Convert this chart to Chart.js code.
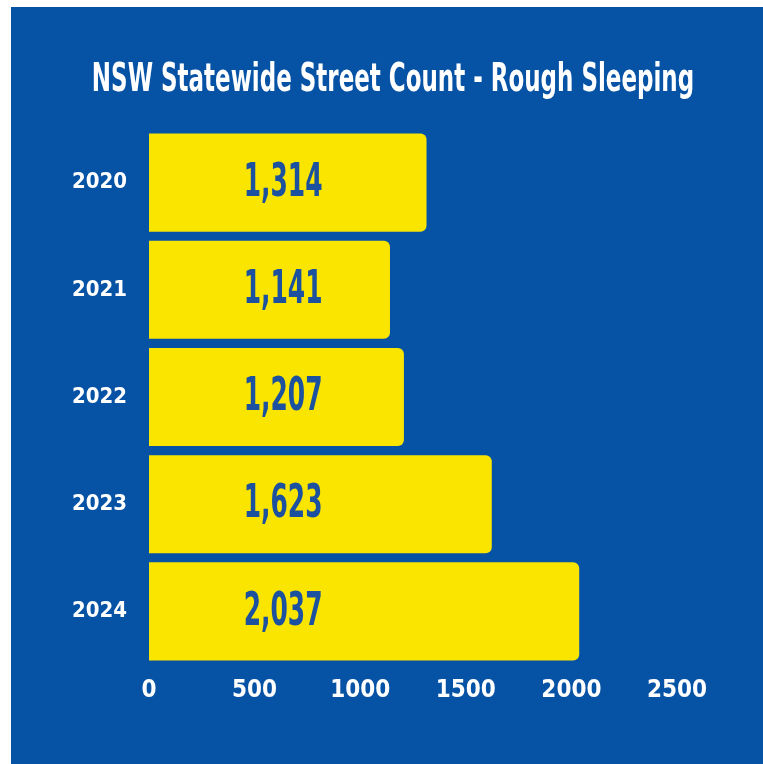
<!DOCTYPE html>
<html>
<head>
<meta charset="utf-8">
<script src="https://cdn.jsdelivr.net/npm/chart.js@4"></script>
<style>
  html, body { margin: 0; padding: 0; background: #fff; }
  #panel { position: absolute; left: 11px; top: 7px; width: 752px; height: 757px; background: #0652a5; }
  canvas { display: block; }
</style>
</head>
<body>
<div id="panel"><canvas id="chart" width="752" height="757"></canvas></div>
<script>
// Rough sleeping counts by year
const years = ['2020', '2021', '2022', '2023', '2024'];
const counts = [1314, 1141, 1207, 1623, 2037];
const xTicks = [0, 500, 1000, 1500, 2000, 2500];
const titleText = 'NSW Statewide Street Count - Rough Sleeping';

const FONT = '"DejaVu Sans Condensed", "DejaVu Sans", sans-serif';
const labelAt = 635; // value labels sit at a fixed spot along the axis

// draw text squeezed horizontally, the original uses a narrow DIN-like face
function squeezed(ctx, text, x, y, font, sx) {
  ctx.save();
  ctx.font = font;
  ctx.textAlign = 'center';
  ctx.textBaseline = 'middle';
  ctx.translate(x, y);
  ctx.scale(sx, 1);
  ctx.fillText(text, 0, 0);
  ctx.restore();
}

const textLayer = {
  id: 'textLayer',
  afterDatasetsDraw(chart) {
    const ctx = chart.ctx;
    const xs = chart.scales.x;
    const meta = chart.getDatasetMeta(0);
    ctx.fillStyle = '#ffffff';
    squeezed(ctx, titleText, 382, 74, 'bold 39px ' + FONT, 0.655);
    ctx.fillStyle = '#1b519e';
    meta.data.forEach((bar, i) => {
      squeezed(ctx, counts[i].toLocaleString('en-US'), xs.getPixelForValue(labelAt), bar.y + 1,
        'bold 47px ' + FONT, 0.59);
    });
  }
};

new Chart(document.getElementById('chart'), {
  type: 'bar',
  data: {
    labels: years,
    datasets: [{
      data: counts,
      backgroundColor: '#f9e500',
      borderRadius: 6,
      barPercentage: 0.915,
      categoryPercentage: 1
    }]
  },
  options: {
    indexAxis: 'y',
    responsive: false,
    animation: false,
    layout: { padding: { left: 0, right: 86, top: 122, bottom: 0 } },
    plugins: {
      legend: { display: false },
      tooltip: { enabled: false },
      title: { display: false }
    },
    scales: {
      x: {
        min: 0,
        max: 2500,
        afterBuildTicks(scale) { scale.ticks = xTicks.map(v => ({ value: v })); },
        afterFit(scale) { scale.height = 99; },
        grid: { display: false, drawTicks: false },
        border: { display: false },
        ticks: {
          color: '#ffffff',
          padding: 11,
          callback: v => String(v),
          font: { family: FONT, size: 24, weight: 'bold' }
        }
      },
      y: {
        afterFit(scale) { scale.width = 138; },
        grid: { display: false, drawTicks: false },
        border: { display: false },
        ticks: { color: '#ffffff', padding: 22, font: { family: FONT, size: 22, weight: 'bold' } }
      }
    }
  },
  plugins: [textLayer]
});
</script>
</body>
</html>
